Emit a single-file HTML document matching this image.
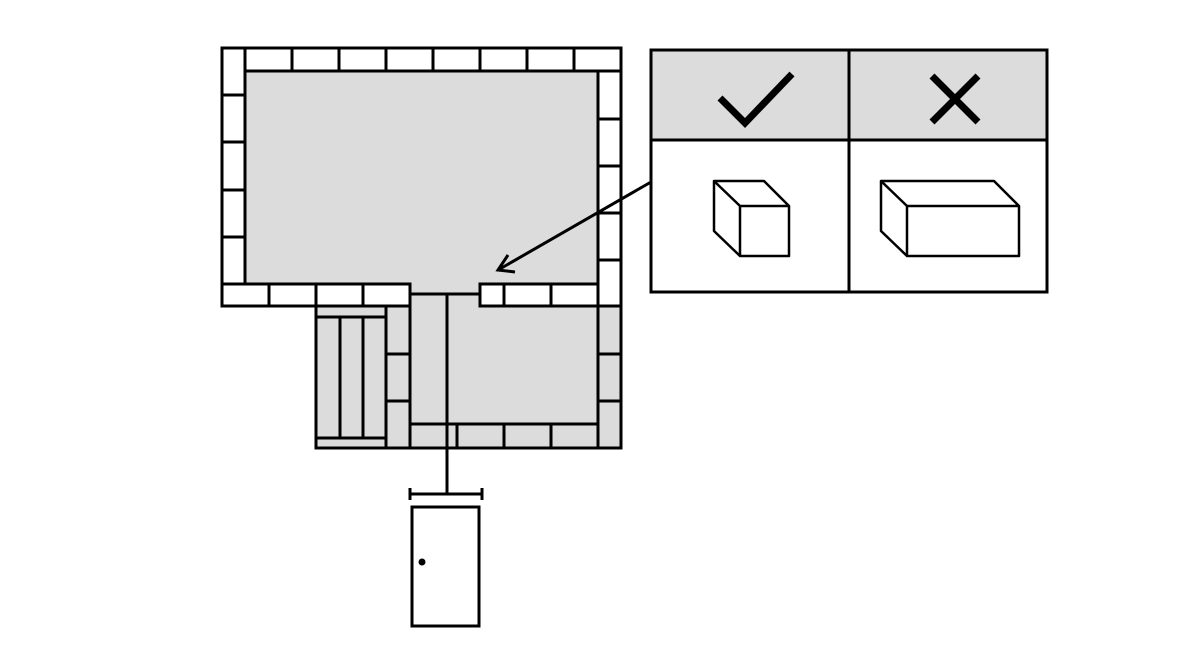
<!DOCTYPE html>
<html><head><style>html,body{margin:0;padding:0;background:#fff;}svg{display:block}</style></head>
<body>
<svg width="1200" height="651" viewBox="0 0 1200 651" xmlns="http://www.w3.org/2000/svg">
<g stroke="#000" stroke-width="3" fill="none">
<rect x="222" y="48" width="399" height="258" fill="#dcdcdc" stroke="none"/>
<rect x="316" y="306" width="305" height="142" fill="#dcdcdc" stroke="none"/>
<rect x="222" y="48" width="399" height="23" fill="#fff"/>
<rect x="222" y="48" width="23" height="258" fill="#fff"/>
<rect x="598" y="71" width="23" height="235" fill="#fff"/>
<rect x="222" y="284" width="188" height="22" fill="#fff"/>
<rect x="480" y="284" width="118" height="22" fill="#fff"/>
<path d="M292 48V71M339 48V71M386 48V71M433 48V71M480 48V71M527 48V71M574 48V71"/>
<path d="M245 48V71"/>
<path d="M222 95H245M222 142H245M222 190H245M222 237H245"/>
<path d="M598 119H621M598 166H621M598 213H621M598 260H621"/>
<path d="M269 284V306M316 284V306M363 284V306M504 284V306M551 284V306"/>
<path d="M410 284V294H480V284"/>
<path d="M222 48H621V448H316V306H222Z"/>
<path d="M598 284V448M598 306H621M598 354H621M598 401H621"/>
<path d="M410 424H598M457 424V448M504 424V448M551 424V448"/>
<path d="M386 306V448M410 294V448M386 354H410M386 401H410"/>
<path d="M316 317H386M340 317V438M363 317V438M316 438H386"/>
<path d="M447 294V494"/>
<path d="M410 494H482M410 488V500M482 488V500"/>
<rect x="412" y="507" width="67" height="119" fill="#fff"/>
<rect x="651" y="50" width="396" height="90" fill="#dcdcdc" stroke="none"/>
<rect x="651" y="50" width="396" height="242"/>
<path d="M651 140H1047M849 50V292"/>
<path d="M720 98L745 123L792 74" stroke-width="7"/>
<path d="M932 76L978 122M978 76L932 122" stroke-width="7"/>
<g stroke-width="2.5" stroke-linejoin="round">
<path d="M714 181H764L789 206H740ZM740 206V256H789V206M714 181V231L740 256"/>
<path d="M881 181H994L1019 206H907ZM907 206V256H1019V206M881 181V231L907 256"/>
</g>
<path d="M651 182L498 270"/>
<path d="M508 255L498 270L515 272"/>
</g>
<circle cx="422" cy="562" r="3.5" fill="#000"/>
</svg>
</body></html>
